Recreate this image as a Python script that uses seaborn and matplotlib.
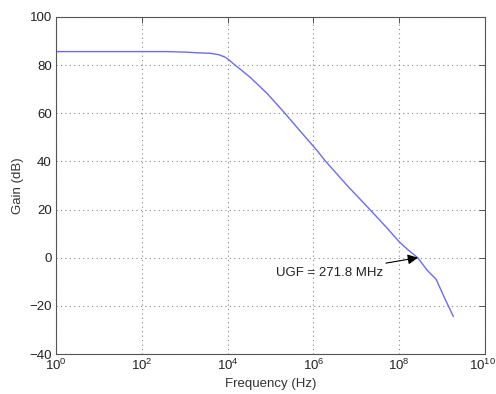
import numpy as np
import pandas as pd
import matplotlib
matplotlib.use("Agg")
import matplotlib.pyplot as plt
import matplotlib.transforms as mtransforms
import seaborn as sns

# Data (log10 of frequency in Hz, gain in dB)
log_freq = [0.0, 1.0, 2.0, 2.6, 3.0, 3.3, 3.6, 3.8, 3.95, 4.05, 4.13, 4.3, 4.52, 4.92, 5.29, 5.69, 6.08, 6.27, 6.8, 7.3, 7.7, 8.0, 8.2, 8.43, 8.65, 8.86, 9.05, 9.26]
gain_db = [85.6, 85.6, 85.6, 85.6, 85.4, 85.1, 84.9, 84.3, 83.2, 81.9, 80.6, 78.2, 75.0, 68.2, 60.9, 52.6, 44.6, 40.3, 29.7, 20.3, 12.6, 6.6, 3.3, 0.0, -5.2, -9.0, -16.5, -24.4]
freq_hz = [10 ** v for v in log_freq]

ugf_label = "UGF = 271.8 MHz"
ugf_freq = 2.718e8
x_ticks = [1e0, 1e2, 1e4, 1e6, 1e8, 1e10]
y_ticks = [-40, -20, 0, 20, 40, 60, 80, 100]

sns.set_theme(style="white")
plt.rcParams['font.family'] = ['Liberation Sans', 'DejaVu Sans']

df = pd.DataFrame({"Frequency (Hz)": freq_hz, "Gain (dB)": gain_db})

fig = plt.figure(figsize=(4.96, 3.94), dpi=100)
ax = fig.add_axes([0.113, 0.1015, 0.865, 0.8555])

sns.lineplot(data=df, x="Frequency (Hz)", y="Gain (dB)", ax=ax,
             color="#6a6aff", linewidth=1.0, sort=False)
ax.set_xscale("log")
ax.set_xlim(1e0, 1e10)
ax.set_ylim(-40, 100)
ax.set_xticks(x_ticks)
ax.xaxis.set_minor_locator(matplotlib.ticker.NullLocator())
ax.set_yticks(y_ticks)

ax.grid(True, which="major", linestyle=(0, (1, 3)), color="#888888", linewidth=0.8)
for s in ax.spines.values():
    s.set_color("#555555")
    s.set_linewidth(0.8)
ax.tick_params(direction="in", length=4, width=0.7, color="#555555",
               top=True, right=True, labelsize=9.5, labelcolor="#222222",
               pad=3)
ax.set_xlabel("Frequency (Hz)", fontsize=9.5, color="#333333", labelpad=3)
ax.set_ylabel("Gain (dB)", fontsize=9.5, color="#333333", labelpad=4)

ax.annotate(ugf_label, xy=(ugf_freq, 0), xytext=(10 ** 5.13, -6.2),
            fontsize=9.5, color="#222222", va="center", ha="left",
            arrowprops=dict(arrowstyle="-|>", color="black", lw=0.8,
                            mutation_scale=15, shrinkA=1, shrinkB=0))

# nudge the last x tick label so it stays inside the figure
fig.canvas.draw()
last = ax.get_xticklabels()[-1]
last.set_transform(last.get_transform() + mtransforms.ScaledTranslation(-3 / 100, 0, fig.dpi_scale_trans))

fig.savefig("out.png", dpi=100)
